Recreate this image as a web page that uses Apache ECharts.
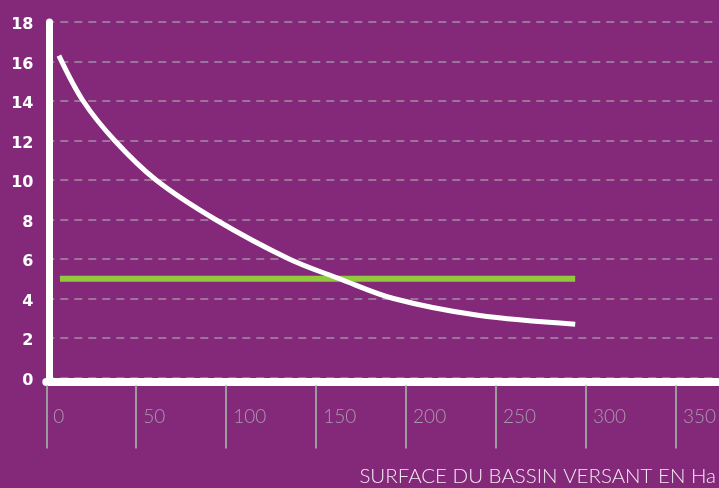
<!DOCTYPE html>
<html style="height: 100%">
<head>
<meta charset="utf-8">
</head>
<body style="margin: 0; background: #84297a">
<div id="container" style="width: 719px; height: 488px;"></div>
<script type="text/javascript" src="https://cdn.jsdelivr.net/npm/echarts@6/dist/echarts.min.js"></script>
<script type="text/javascript">
// valeurs
var xTicks = [0, 50, 100, 150, 200, 250, 300, 350];
var courbe = [[7, 16.3], [20.5, 14], [38, 12], [61, 10], [94, 8], [135, 6], [163, 5], [193, 4], [240, 3.15], [294, 2.7]];
var seuil = [[7.6, 5], [294, 5]];
var titreX = 'SURFACE DU BASSIN VERSANT EN Ha';

var dom = document.getElementById('container');
var myChart = echarts.init(dom);

var option = {
    backgroundColor: '#84297a',
    animation: false,
    title: {
        text: titreX,
        right: 3,
        top: 466,
        padding: 0,
        textStyle: {
            color: '#f4e8f2',
            fontFamily: 'Lato',
            fontWeight: 300,
            fontSize: 20.5
        }
    },
    grid: {
        left: 46.3,
        right: 0,
        top: 22,
        bottom: 110.5,
        containLabel: false
    },
    xAxis: [{
        type: 'value',
        min: 0,
        max: 373,
        position: 'bottom',
        offset: 4,
        axisLine: { onZero: false, lineStyle: { color: '#ffffff', width: 8 } },
        axisTick: { show: false },
        axisLabel: { show: false },
        splitLine: { show: false }
    }, {
        type: 'value',
        min: 0,
        max: 373,
        position: 'bottom',
        offset: 8,
        axisLine: { show: false, onZero: false },
        axisTick: {
            show: true,
            length: 63,
            customValues: xTicks,
            lineStyle: { color: '#9b9b9b', width: 2 }
        },
        axisLabel: {
            customValues: xTicks,
            color: '#a99aac',
            fontFamily: 'Lato',
            fontWeight: 300,
            fontSize: 19,
            align: 'left',
            verticalAlign: 'middle',
            padding: [0, 0, 0, 7],
            margin: 31
        },
        splitLine: { show: false }
    }],
    yAxis: {
        type: 'value',
        min: 0,
        max: 18,
        interval: 2,
        offset: -3.2,
        axisLine: { show: true, onZero: false, lineStyle: { color: '#ffffff', width: 7 } },
        axisTick: { show: false },
        axisLabel: {
            formatter: '{v|{value}}',
            margin: 16,
            rich: {
                v: {
                    color: '#ffffff',
                    fontFamily: 'DejaVu Sans',
                    fontWeight: 'bold',
                    fontSize: 16,
                    padding: [6, 0, 0, 0]
                }
            }
        },
        splitLine: {
            show: true,
            lineStyle: { color: '#a28fa4', width: 1.5, type: [8, 6] }
        }
    },
    series: [{
        name: 'courbe',
        type: 'line',
        data: courbe,
        smooth: 0.35,
        showSymbol: false,
        symbol: 'none',
        lineStyle: { color: '#ffffff', width: 5 },
        z: 3
    }, {
        name: 'seuil',
        type: 'line',
        data: seuil,
        showSymbol: false,
        symbol: 'none',
        lineStyle: { color: '#92c83e', width: 6 },
        z: 2
    }]
};

if (option && typeof option === 'object') {
    myChart.setOption(option, true);
}
</script>
</body>
</html>
